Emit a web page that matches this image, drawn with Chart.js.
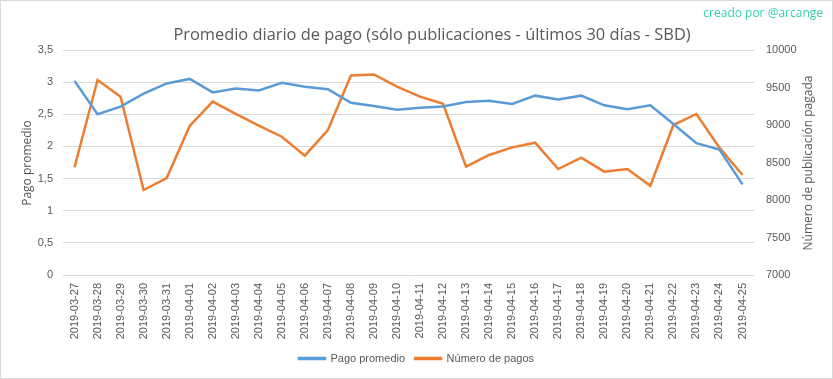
<!DOCTYPE html>
<html>
<head>
<meta charset="utf-8">
<script src="https://cdn.jsdelivr.net/npm/chart.js@4"></script>
<style>
html,body{margin:0;padding:0;background:#fff;}
canvas{display:block;}
</style>
</head>
<body>
<canvas id="c" width="833" height="379"></canvas>
<script>
const categories = ["2019-03-27","2019-03-28","2019-03-29","2019-03-30","2019-03-31","2019-04-01","2019-04-02","2019-04-03","2019-04-04","2019-04-05","2019-04-06","2019-04-07","2019-04-08","2019-04-09","2019-04-10","2019-04-11","2019-04-12","2019-04-13","2019-04-14","2019-04-15","2019-04-16","2019-04-17","2019-04-18","2019-04-19","2019-04-20","2019-04-21","2019-04-22","2019-04-23","2019-04-24","2019-04-25"];
const pagoPromedio = [3.02,2.50,2.62,2.82,2.98,3.05,2.84,2.90,2.87,2.99,2.93,2.89,2.68,2.63,2.57,2.60,2.62,2.69,2.71,2.66,2.79,2.73,2.79,2.64,2.58,2.64,2.35,2.05,1.95,1.41];
const numeroPagos = [8436,9600,9378,8133,8293,8987,9311,9147,8991,8844,8591,8933,9660,9674,9513,9378,9282,8444,8600,8702,8764,8413,8564,8378,8413,8191,9000,9147,8698,8333];
const leftTicks = {min:0, max:3.5, step:0.5};
const rightTicks = {min:7000, max:10000, step:500};
const titleText = "Promedio diario de pago (sólo publicaciones - últimos 30 días - SBD)";
const creditText = "creado por @arcange";
const leftTitle = "Pago promedio";
const rightTitle = "Número de publicación pagada";

const BLUE = "#5b9bd5", ORANGE = "#ed7d31", GRAY = "#595959", GRID = "#d9d9d9";
const tickFont = "'Liberation Sans',Arial,sans-serif";
const sans = "'Open Sans','Noto Sans',sans-serif";

const decor = {
  id: 'decor',
  afterDraw(chart) {
    const ctx = chart.ctx;
    ctx.save();
    ctx.strokeStyle = GRID; ctx.lineWidth = 1;
    ctx.strokeRect(0.5, 0.5, chart.width - 1, chart.height - 1);
    ctx.fillStyle = GRAY;
    ctx.font = "16.4px " + sans;
    ctx.textAlign = 'center'; ctx.textBaseline = 'middle';
    ctx.fillText(titleText, 432, 35);
    ctx.fillStyle = "#33d1ad";
    ctx.font = "12px " + sans;
    ctx.textAlign = 'right';
    ctx.fillText(creditText, 823, 14);
    ctx.fillStyle = GRAY;
    ctx.font = "12px " + sans;
    ctx.textAlign = 'center';
    ctx.save();
    ctx.translate(28, 163);
    ctx.rotate(-Math.PI/2);
    ctx.fillText(leftTitle, 0, 0);
    ctx.restore();
    ctx.translate(809, 163);
    ctx.rotate(-Math.PI/2);
    ctx.fillText(rightTitle, 0, 0);
    ctx.restore();
  }
};

new Chart(document.getElementById('c'), {
  type: 'line',
  data: {
    labels: categories,
    datasets: [
      {label: 'Pago promedio', data: pagoPromedio, yAxisID: 'y', borderColor: BLUE, backgroundColor: BLUE, borderWidth: 2.5, pointRadius: 0, tension: 0},
      {label: 'Número de pagos', data: numeroPagos, yAxisID: 'y1', borderColor: ORANGE, backgroundColor: ORANGE, borderWidth: 2.5, pointRadius: 0, tension: 0}
    ]
  },
  options: {
    responsive: false,
    animation: false,
    layout: {padding: {top: 50, left: 0, right: 0, bottom: 5}},
    plugins: {
      title: {display: false},
      tooltip: {enabled: false},
      legend: {
        position: 'bottom',
        labels: {
          font: {family: tickFont, size: 11},
          color: GRAY,
          boxWidth: 26,
          boxHeight: 1,
          padding: 10
        }
      }
    },
    scales: {
      x: {
        offset: true,
        grid: {display: false, drawTicks: false},
        border: {display: false},
        ticks: {font: {family: tickFont, size: 11}, color: GRAY, minRotation: 90, maxRotation: 90, padding: 8, autoSkip: false},
        afterFit(s) { s.height = 68; }
      },
      y: {
        position: 'left',
        min: leftTicks.min, max: leftTicks.max,
        ticks: {stepSize: leftTicks.step, font: {family: tickFont, size: 11}, color: GRAY, padding: 10,
          callback: v => String(v).replace('.', ',')},
        grid: {color: GRID, drawTicks: false, lineWidth: 1},
        border: {display: false},
        afterFit(s) { s.width = 63; }
      },
      y1: {
        position: 'right',
        min: rightTicks.min, max: rightTicks.max,
        ticks: {stepSize: rightTicks.step, font: {family: tickFont, size: 11}, color: GRAY, padding: 12,
          callback: v => String(v)},
        grid: {display: false, drawTicks: false},
        border: {display: false},
        afterFit(s) { s.width = 79; }
      }
    }
  },
  plugins: [decor]
});
</script>
</body>
</html>
